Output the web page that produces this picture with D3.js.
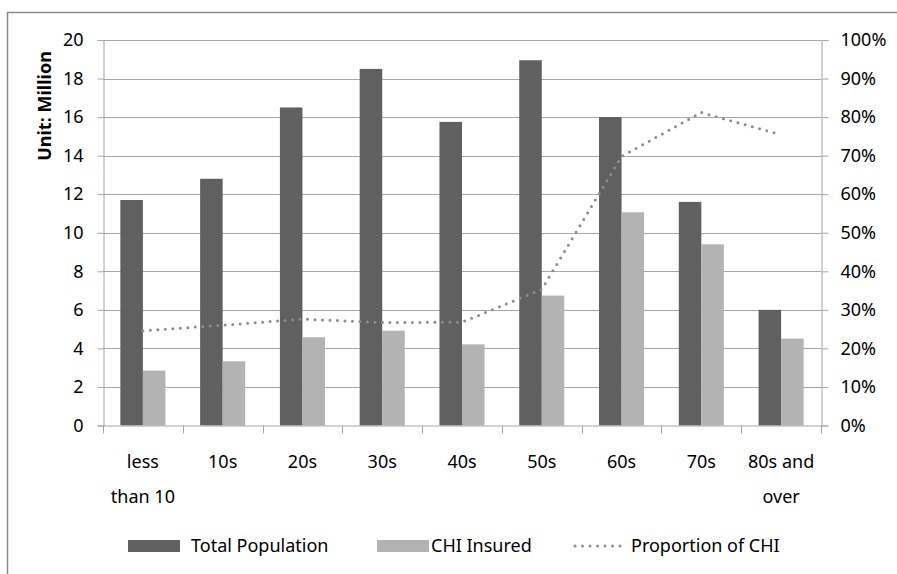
<!DOCTYPE html>
<html><head><meta charset="utf-8">
<script src="https://cdn.jsdelivr.net/npm/d3@7"></script>
<style>
html,body{margin:0;padding:0;background:#fff;}
svg text{font-family:"Noto Sans",sans-serif;fill:#000;}
</style></head>
<body>
<div id="chart"></div>
<script>
const categories = [["less","than 10"],["10s"],["20s"],["30s"],["40s"],["50s"],["60s"],["70s"],["80s and","over"]];
const totalPopulation = [11.7, 12.8, 16.5, 18.5, 15.75, 18.95, 16.0, 11.6, 6.0];
const chiInsured = [2.85, 3.33, 4.58, 4.92, 4.21, 6.74, 11.06, 9.40, 4.51];
const proportionCHI = [24.6, 26.0, 27.6, 26.7, 26.8, 35.3, 69.8, 81.2, 75.4];
const leftTicks = [0,2,4,6,8,10,12,14,16,18,20];
const rightTicks = [0,10,20,30,40,50,60,70,80,90,100];
const seriesNames = ["Total Population","CHI Insured","Proportion of CHI"];

const W = 897, H = 574;
const m = {left:103, right:821, top:40, bottom:425.5};
const darkC = "#606060", lightC = "#b3b3b3", lineC = "#8c8c8c", gridC = "#a6a6a6";
const FS = "18px";

const svg = d3.select("#chart").append("svg").attr("width",W).attr("height",H);

// outer border
svg.append("path").attr("d",`M7.5,${H} V12.5 H${W}`).attr("fill","none").attr("stroke","#8a8a8a").attr("stroke-width",1.5);

const idx = d3.range(categories.length);
const x = d3.scaleBand().domain(idx).range([m.left, m.right]).paddingInner(0).paddingOuter(0);
const xg = d3.scaleBand().domain([0,1]).range([0, x.bandwidth()*0.565]);
const yL = d3.scaleLinear().domain([0,20]).range([m.bottom, m.top]);
const yR = d3.scaleLinear().domain([0,100]).range([m.bottom, m.top]);

// gridlines
svg.append("g").selectAll("line").data(leftTicks.filter(d=>d>0)).join("line")
  .attr("x1",m.left).attr("x2",m.right)
  .attr("y1",d=>Math.round(yL(d))+0.5).attr("y2",d=>Math.round(yL(d))+0.5)
  .attr("stroke",gridC).attr("stroke-width",1);

// bars
const off = (x.bandwidth() - x.bandwidth()*0.565)/2;
const g = svg.append("g");
g.selectAll("rect.t").data(totalPopulation).join("rect").attr("class","t")
  .attr("x",(d,i)=>x(i)+off+xg(0)).attr("width",xg.bandwidth())
  .attr("y",d=>yL(d)).attr("height",d=>yL(0)-yL(d)).attr("fill",darkC);
g.selectAll("rect.c").data(chiInsured).join("rect").attr("class","c")
  .attr("x",(d,i)=>x(i)+off+xg(1)).attr("width",xg.bandwidth())
  .attr("y",d=>yL(d)).attr("height",d=>yL(0)-yL(d)).attr("fill",lightC);

// left axis
const axL = d3.axisLeft(yL).tickValues(leftTicks).tickSize(6).tickPadding(14).tickFormat(d3.format("d"));
const gl = svg.append("g").attr("transform",`translate(${m.left+0.5},0)`).call(axL);
gl.select(".domain").attr("stroke",gridC);
gl.selectAll(".tick line").attr("stroke",gridC);
gl.selectAll(".tick text").style("font-size",FS);

// right axis
const axR = d3.axisRight(yR).tickValues(rightTicks).tickSize(7).tickPadding(12).tickFormat(d=>d+"%");
const gr = svg.append("g").attr("transform",`translate(${m.right+0.5},0)`).call(axR);
gr.select(".domain").attr("stroke",gridC);
gr.selectAll(".tick line").attr("stroke",gridC);
gr.selectAll(".tick text").style("font-size",FS);

// bottom axis line and ticks at boundaries
svg.append("line").attr("x1",m.left).attr("x2",m.right).attr("y1",m.bottom+0.5).attr("y2",m.bottom+0.5).attr("stroke",gridC);
const bounds = d3.range(categories.length+1).map(i=> i<categories.length ? x(i) : x(categories.length-1)+x.bandwidth());
svg.append("g").selectAll("line").data(bounds).join("line")
  .attr("x1",d=>Math.round(d)+0.5).attr("x2",d=>Math.round(d)+0.5)
  .attr("y1",m.bottom).attr("y2",m.bottom+8).attr("stroke",gridC);

// x labels
const xl = svg.append("g").selectAll("text").data(categories).join("text")
  .attr("text-anchor","middle").style("font-size",FS)
  .attr("transform",(d,i)=>`translate(${x(i)+x.bandwidth()/2},0)`);
xl.selectAll("tspan").data(d=>d).join("tspan").attr("x",0).attr("y",(d,j)=>468+j*35).text(d=>d);

// proportion line
const line = d3.line().x((d,i)=>x(i)+x.bandwidth()/2).y(d=>yR(d));
svg.append("path").datum(proportionCHI).attr("d",line).attr("fill","none")
  .attr("stroke",lineC).attr("stroke-width",3).attr("stroke-linecap","round").attr("stroke-dasharray","0 7.5");

// y axis title
svg.append("text").attr("transform",`translate(51,${106}) rotate(-90)`)
  .attr("text-anchor","middle").style("font-size",FS).style("font-weight","bold").text("Unit: Million");

// legend
const ly = 546;
const leg = svg.append("g");
leg.append("rect").attr("x",128).attr("y",ly-6).attr("width",52).attr("height",12).attr("fill",darkC);
leg.append("text").attr("x",191).attr("y",ly).attr("dy","0.35em").style("font-size",FS).text(seriesNames[0]);
leg.append("rect").attr("x",377).attr("y",ly-6).attr("width",52).attr("height",12).attr("fill",lightC);
leg.append("text").attr("x",431).attr("y",ly).attr("dy","0.35em").style("font-size",FS).text(seriesNames[1]);
leg.append("line").attr("x1",575).attr("x2",623).attr("y1",ly).attr("y2",ly)
  .attr("stroke",lineC).attr("stroke-width",3).attr("stroke-linecap","round").attr("stroke-dasharray","0 7.5");
leg.append("text").attr("x",631).attr("y",ly).attr("dy","0.35em").style("font-size",FS).text(seriesNames[2]);
</script>
</body></html>
